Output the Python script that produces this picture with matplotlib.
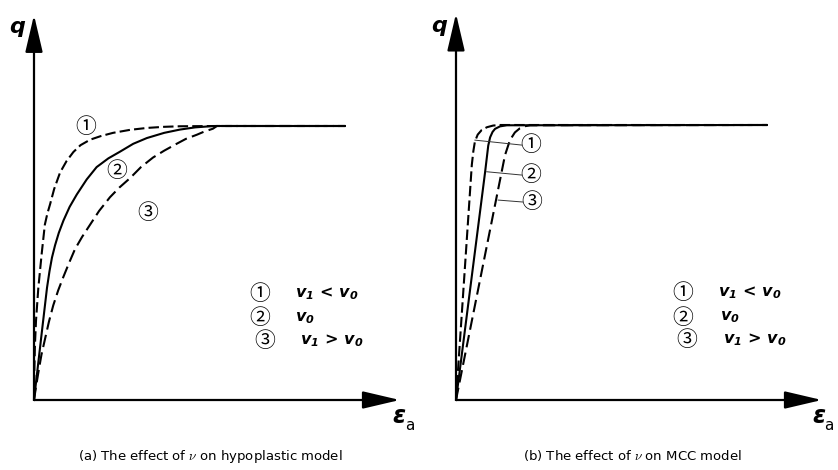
import matplotlib.pyplot as plt

plt.rcParams['font.family'] = ['DejaVu Sans', 'Noto Sans CJK SC']
plt.rcParams['mathtext.fontset'] = 'custom'
plt.rcParams['mathtext.bfit'] = 'DejaVu Sans:italic:bold'
plt.rcParams['mathtext.bf'] = 'DejaVu Sans:bold'

# (a) hypoplastic model: axial strain vs deviator stress (normalised to peak)
hypo_eps_1 = [0, 0.01, 0.03, 0.065, 0.14, 0.25, 0.35, 0.43, 0.52, 0.65, 0.84, 1.05, 1.27, 1.5,
              1.81, 2.15, 2.55, 3.1, 3.65, 4.2, 4.71, 5.9, 10.03]
hypo_q_1 = [0, 0.10, 0.20, 0.29, 0.41, 0.536, 0.64, 0.68, 0.715, 0.77, 0.83, 0.872, 0.905, 0.93,
            0.95, 0.963, 0.975, 0.986, 0.993, 0.997, 0.999, 1.0, 1.0]
hypo_eps_2 = [0, 0.13, 0.26, 0.42, 0.50, 0.58, 0.68, 0.80, 0.95, 1.15, 1.38, 1.7, 2.02, 2.4,
              2.77, 3.2, 3.64, 4.2, 4.71, 5.2, 5.68, 5.9, 10.03]
hypo_q_2 = [0, 0.128, 0.255, 0.41, 0.47, 0.52, 0.565, 0.61, 0.655, 0.705, 0.75, 0.805, 0.85, 0.882,
            0.906, 0.935, 0.956, 0.975, 0.987, 0.995, 0.999, 1.0, 1.0]
hypo_eps_3 = [0, 0.06, 0.14, 0.24, 0.35, 0.48, 0.62, 0.78, 0.95, 1.13, 1.32, 1.55, 1.81, 2.1,
              2.45, 2.75, 3.1, 3.45, 3.84, 4.2, 4.6, 4.9, 5.25, 5.5, 5.77, 5.9, 10.03]
hypo_q_3 = [0, 0.045, 0.10, 0.165, 0.22, 0.285, 0.345, 0.40, 0.45, 0.50, 0.55, 0.595, 0.64, 0.69,
            0.74, 0.775, 0.81, 0.85, 0.885, 0.91, 0.935, 0.953, 0.968, 0.98, 0.99, 1.0, 1.0]

# (b) MCC model
mcc_eps_1 = [0, 0.51, 0.56, 0.61, 0.70, 0.83, 1.0, 1.2, 1.42, 10.03]
mcc_q_1 = [0, 0.855, 0.905, 0.94, 0.965, 0.982, 0.992, 0.998, 1.0, 1.0]
mcc_eps_2 = [0, 0.94, 1.04, 1.10, 1.18, 1.26, 1.42, 1.64, 10.03]
mcc_q_2 = [0, 0.83, 0.925, 0.955, 0.975, 0.986, 0.995, 0.999, 1.0]
mcc_eps_3 = [0, 1.42, 1.58, 1.74, 1.9, 2.06, 2.2, 2.39, 10.03]
mcc_q_3 = [0, 0.80, 0.89, 0.945, 0.973, 0.988, 0.995, 0.999, 1.0]

legend_marks = ['\u2460', '\u2461', '\u2462']
legend_texts = [r'$\mathbfit{v}_\mathbfit{1}\,\mathbf{<}\,\mathbfit{v}_\mathbfit{0}$',
                r'$\mathbfit{v}_\mathbfit{0}$',
                r'$\mathbfit{v}_\mathbfit{1}\,\mathbf{>}\,\mathbfit{v}_\mathbfit{0}$']
captions = [r'(a) The effect of $\nu$ on hypoplastic model',
            r'(b) The effect of $\nu$ on MCC model']

W, H = 838, 470
fig = plt.figure(figsize=(W / 100, H / 100), dpi=100)
ax_a = fig.add_axes([34 / W, 70 / H, 372 / W, 274 * 1.42 / H])
ax_b = fig.add_axes([456 / W, 70 / H, 372 / W, 275 * 1.42 / H])

styles = [dict(ls=(0, (5, 2)), lw=1.5), dict(ls='-', lw=1.5), dict(ls=(0, (6, 2.6)), lw=1.5)]
circ = dict(family=['Noto Sans CJK SC', 'DejaVu Sans'], fontsize=15, ha='center', va='center')
vtxt = dict(fontsize=11.5, ha='left', va='center')


def draw_frame(ax, eps_x, a_x):
    ax.set_xlim(0, 12)
    ax.set_ylim(0, 1.42)
    ax.axis('off')
    head = '-|>,head_length=1.15,head_width=0.27'
    ax.annotate('', xy=(11.8, 0), xytext=(0, 0),
                arrowprops=dict(arrowstyle=head, mutation_scale=20, lw=1.6, color='black',
                                shrinkA=0, shrinkB=0))
    ax.annotate('', xy=(0, 1.405), xytext=(0, 0),
                arrowprops=dict(arrowstyle=head, mutation_scale=20, lw=1.6, color='black',
                                shrinkA=0, shrinkB=0))
    ax.text(-0.53, 1.36, 'q', fontsize=16, fontweight='bold', fontstyle='italic',
            ha='center', va='center', clip_on=False)
    ax.text(eps_x, -0.058, '\u03b5', fontsize=17, fontweight='bold', fontstyle='italic',
            ha='center', va='center', clip_on=False)
    ax.text(a_x, -0.092, 'a', fontsize=11, ha='center', va='center', clip_on=False)


def draw_legend(ax, xs, ys, xt):
    for m, t, x, y, x2 in zip(legend_marks, legend_texts, xs, ys, xt):
        ax.text(x, y, m, **circ)
        ax.text(x2, y, t, **vtxt)


# panel (a)
draw_frame(ax_a, 11.77, 12.13)
for xs, qs, st in zip([hypo_eps_1, hypo_eps_2, hypo_eps_3], [hypo_q_1, hypo_q_2, hypo_q_3], styles):
    ax_a.plot(xs, qs, color='black', clip_on=False, **st)
for m, x, y in zip(legend_marks, [1.68, 2.68, 3.68], [0.996, 0.836, 0.682]):
    ax_a.text(x, y, m, **circ)
draw_legend(ax_a, [7.29, 7.29, 7.45], [0.387, 0.30, 0.215], [8.42, 8.42, 8.58])

# panel (b)
draw_frame(ax_b, 11.7, 12.02)
for xs, qs, st in zip([mcc_eps_1, mcc_eps_2, mcc_eps_3], [mcc_q_1, mcc_q_2, mcc_q_3], styles):
    ax_b.plot(xs, qs, color='black', clip_on=False, **st)
leader_start = [(0.61, 0.945), (0.99, 0.83), (1.36, 0.727)]
leader_end = [(2.12, 0.927), (2.12, 0.818), (2.15, 0.72)]
for m, (x0, y0), (x1, y1) in zip(legend_marks, leader_start, leader_end):
    ax_b.plot([x0, x1], [y0, y1], color='#333333', lw=0.7)
    ax_b.text(x1 + 0.3, y1, m, **circ)
draw_legend(ax_b, [7.32, 7.32, 7.45], [0.389, 0.30, 0.218], [8.45, 8.52, 8.61])

for cx, cap in zip([210, 632], captions):
    fig.text(cx / W, 1 - 460 / H, cap, fontsize=9.5, ha='center', va='baseline',
             math_fontfamily='cm')

fig.savefig('out.png', dpi=100)
